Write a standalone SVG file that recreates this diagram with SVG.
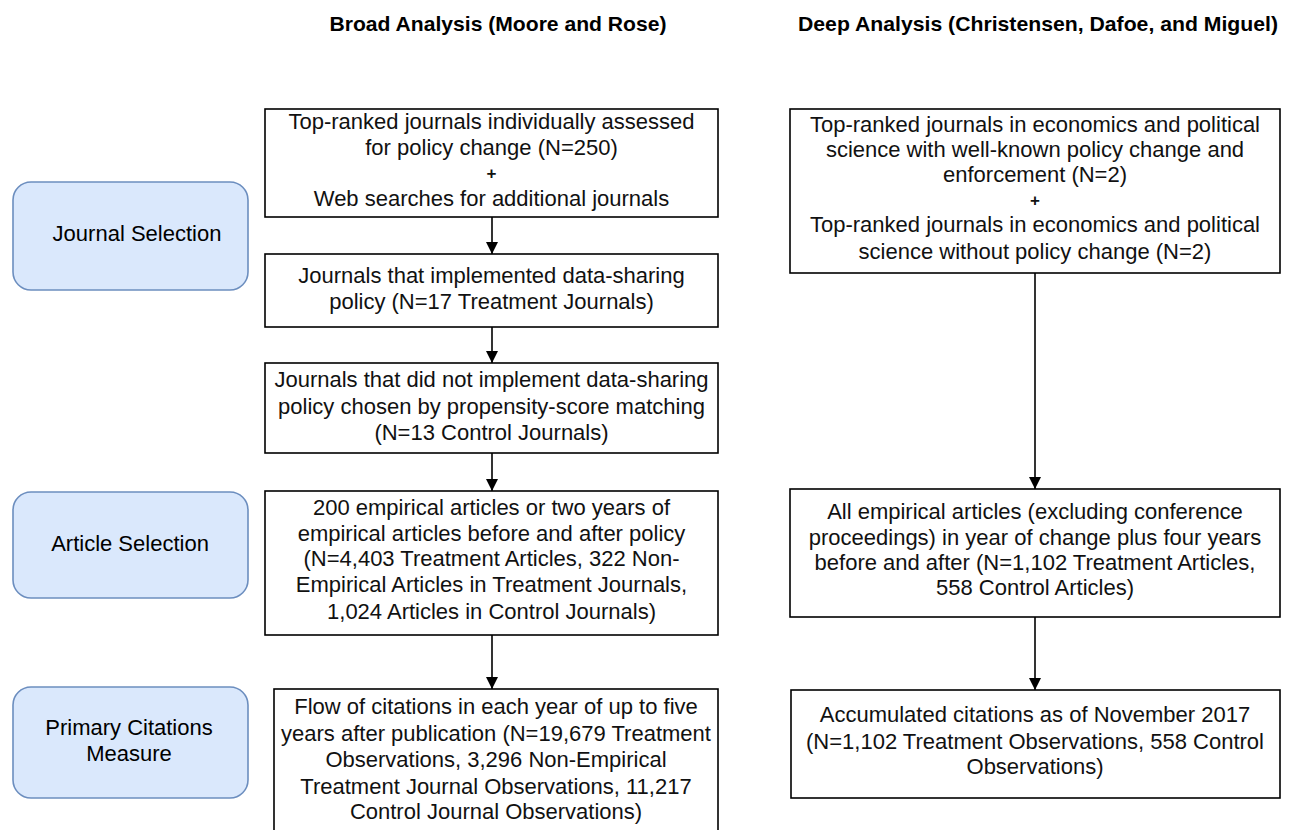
<svg xmlns="http://www.w3.org/2000/svg" width="1291" height="830" viewBox="0 0 1291 830">
<style>
.hdr{font-family:"Liberation Sans",Arial,sans-serif;font-weight:bold;font-size:21px;fill:#000;text-anchor:middle}
.t{font-family:"Liberation Sans",Arial,sans-serif;font-size:22px;fill:#111;text-anchor:middle}
.plus{font-family:"Liberation Sans",Arial,sans-serif;font-size:17px;font-weight:bold;fill:#111;text-anchor:middle}
.lbl{font-family:"Liberation Sans",Arial,sans-serif;font-size:22px;fill:#000;text-anchor:middle}
.box{fill:#fff;stroke:#000;stroke-width:1.6}
.side{fill:#dae8fc;stroke:#6c8ebf;stroke-width:1.6}
.conn{stroke:#000;stroke-width:1.6;fill:none;marker-end:url(#ah)}
</style>
<defs>
<marker id="ah" markerWidth="12" markerHeight="12" refX="10" refY="5" orient="auto" markerUnits="userSpaceOnUse" viewBox="0 0 10 10">
<path d="M0,0 L10,5 L0,10 Z" fill="#000"/>
</marker>
</defs>
<rect width="1291" height="830" fill="#fff"/>
<g id="headers">
<text class="hdr" x="498" y="31" textLength="337" lengthAdjust="spacingAndGlyphs">Broad Analysis (Moore and Rose)</text>
<text class="hdr" x="1038" y="31" textLength="480" lengthAdjust="spacingAndGlyphs">Deep Analysis (Christensen, Dafoe, and Miguel)</text>
</g>
<g id="label-journal">
<rect class="side" x="13" y="182" width="235" height="108" rx="18"/>
<text class="lbl" x="137" y="241">Journal Selection</text>
</g>
<g id="label-article">
<rect class="side" x="13" y="492" width="235" height="106" rx="18"/>
<text class="lbl" x="130" y="551">Article Selection</text>
</g>
<g id="label-citations">
<rect class="side" x="13" y="687" width="235" height="111" rx="18"/>
<text class="lbl" x="129" y="735">Primary Citations</text>
<text class="lbl" x="129" y="761">Measure</text>
</g>
<g id="b1">
<rect class="box" x="265" y="109" width="453" height="108"/>
<text class="t" x="491.5" y="129">Top-ranked journals individually assessed</text>
<text class="t" x="491.5" y="155">for policy change (N=250)</text>
<text class="plus" x="491.5" y="179">+</text>
<text class="t" x="491.5" y="206">Web searches for additional journals</text>
</g>
<g id="b2">
<rect class="box" x="265" y="254" width="453" height="73"/>
<text class="t" x="491.5" y="283">Journals that implemented data-sharing</text>
<text class="t" x="491.5" y="309">policy (N=17 Treatment Journals)</text>
</g>
<g id="b3">
<rect class="box" x="265" y="363" width="453" height="90"/>
<text class="t" x="491.5" y="387">Journals that did not implement data-sharing</text>
<text class="t" x="491.5" y="414">policy chosen by propensity-score matching</text>
<text class="t" x="491.5" y="440">(N=13 Control Journals)</text>
</g>
<g id="b4">
<rect class="box" x="265" y="491" width="453" height="144"/>
<text class="t" x="491.5" y="515">200 empirical articles or two years of</text>
<text class="t" x="491.5" y="541">empirical articles before and after policy</text>
<text class="t" x="491.5" y="566">(N=4,403 Treatment Articles, 322 Non-</text>
<text class="t" x="491.5" y="592">Empirical Articles in Treatment Journals,</text>
<text class="t" x="491.5" y="619">1,024 Articles in Control Journals)</text>
</g>
<g id="b5">
<rect class="box" x="274" y="689" width="444" height="150"/>
<text class="t" x="496" y="714">Flow of citations in each year of up to five</text>
<text class="t" x="496" y="741">years after publication (N=19,679 Treatment</text>
<text class="t" x="496" y="767">Observations, 3,296 Non-Empirical</text>
<text class="t" x="496" y="794">Treatment Journal Observations, 11,217</text>
<text class="t" x="496" y="819">Control Journal Observations)</text>
</g>
<g id="r1">
<rect class="box" x="790" y="109" width="490" height="164"/>
<text class="t" x="1035" y="132">Top-ranked journals in economics and political</text>
<text class="t" x="1035" y="157">science with well-known policy change and</text>
<text class="t" x="1035" y="182">enforcement (N=2)</text>
<text class="plus" x="1035" y="206">+</text>
<text class="t" x="1035" y="232">Top-ranked journals in economics and political</text>
<text class="t" x="1035" y="259">science without policy change (N=2)</text>
</g>
<g id="r2">
<rect class="box" x="790" y="489" width="490" height="128"/>
<text class="t" x="1035" y="519">All empirical articles (excluding conference</text>
<text class="t" x="1035" y="545">proceedings) in year of change plus four years</text>
<text class="t" x="1035" y="570">before and after (N=1,102 Treatment Articles,</text>
<text class="t" x="1035" y="595">558 Control Articles)</text>
</g>
<g id="r3">
<rect class="box" x="791" y="690" width="489" height="108"/>
<text class="t" x="1035" y="722">Accumulated citations as of November 2017</text>
<text class="t" x="1035" y="749">(N=1,102 Treatment Observations, 558 Control</text>
<text class="t" x="1035" y="774">Observations)</text>
</g>
<g id="connectors">
<line class="conn" x1="492" y1="217" x2="492" y2="254"/>
<line class="conn" x1="492" y1="327" x2="492" y2="363"/>
<line class="conn" x1="492" y1="453" x2="492" y2="491"/>
<line class="conn" x1="492" y1="635" x2="492" y2="689"/>
<line class="conn" x1="1035" y1="273" x2="1035" y2="489"/>
<line class="conn" x1="1035" y1="617" x2="1035" y2="690"/>
</g>
</svg>
